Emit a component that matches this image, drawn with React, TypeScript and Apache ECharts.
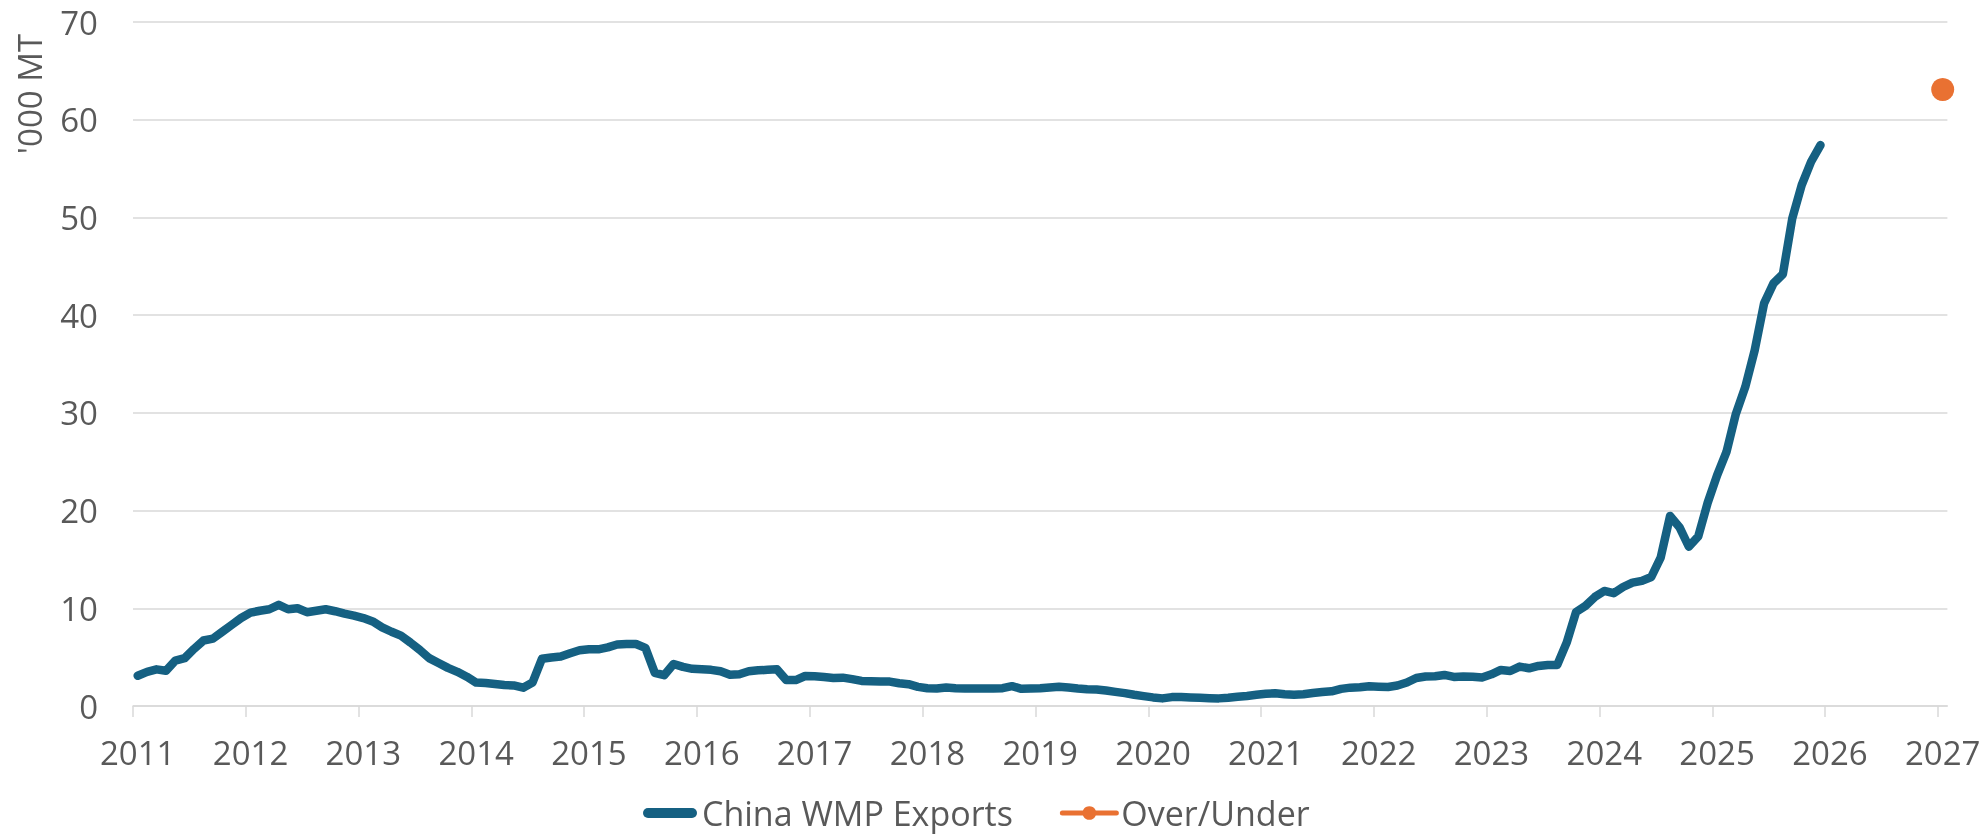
import React, { useEffect, useRef } from 'react';
import * as echarts from 'echarts';

const yearLabels = [
  '2011', '2012', '2013', '2014', '2015', '2016', '2017', '2018', '2019',
  '2020', '2021', '2022', '2023', '2024', '2025', '2026', '2027',
];

const yTicks = [0, 10, 20, 30, 40, 50, 60, 70];

// China WMP Exports, monthly from Jan 2011 to Dec 2025 ('000 MT)
const exports2011 = [3.1, 3.5, 3.75, 3.6, 4.65, 4.9, 5.85, 6.7, 6.9, 7.6, 8.3, 9.0];
const exports2012 = [9.55, 9.75, 9.9, 10.35, 9.9, 10.0, 9.6, 9.75, 9.9, 9.7, 9.45, 9.25];
const exports2013 = [9.0, 8.65, 8.05, 7.6, 7.2, 6.5, 5.75, 4.9, 4.4, 3.9, 3.5, 3.0];
const exports2014 = [2.4, 2.35, 2.25, 2.15, 2.1, 1.87, 2.4, 4.83, 4.97, 5.07, 5.4, 5.7];
const exports2015 = [5.8, 5.8, 6.0, 6.3, 6.35, 6.35, 5.95, 3.4, 3.15, 4.3, 4.0, 3.8];
const exports2016 = [3.75, 3.7, 3.55, 3.2, 3.25, 3.55, 3.65, 3.7, 3.75, 2.65, 2.65, 3.07];
const exports2017 = [3.05, 2.97, 2.87, 2.9, 2.75, 2.57, 2.53, 2.5, 2.5, 2.33, 2.23, 1.96];
const exports2018 = [1.82, 1.79, 1.89, 1.82, 1.79, 1.79, 1.79, 1.79, 1.82, 2.03, 1.76, 1.79];
const exports2019 = [1.82, 1.89, 1.96, 1.89, 1.79, 1.72, 1.69, 1.59, 1.45, 1.32, 1.15, 1.01];
const exports2020 = [0.88, 0.78, 0.91, 0.91, 0.88, 0.84, 0.8, 0.78, 0.85, 0.95, 1.03, 1.15];
const exports2021 = [1.25, 1.3, 1.2, 1.15, 1.2, 1.33, 1.43, 1.5, 1.75, 1.88, 1.92, 2.02];
const exports2022 = [1.98, 1.95, 2.1, 2.4, 2.87, 3.02, 3.05, 3.18, 2.98, 3.02, 3.0, 2.92];
const exports2023 = [3.24, 3.69, 3.58, 4.03, 3.86, 4.1, 4.2, 4.2, 6.48, 9.62, 10.24, 11.16];
const exports2024 = [11.77, 11.54, 12.18, 12.63, 12.8, 13.2, 15.19, 19.45, 18.3, 16.3, 17.35, 20.8];
const exports2025 = [23.6, 26.0, 29.9, 32.65, 36.4, 41.2, 43.25, 44.2, 49.9, 53.3, 55.7, 57.4];

// Over/Under single point (Jan 2027)
const overUnderMonthIndex = [192];
const overUnderValues = [63.1];

const exportsValues = [
  ...exports2011, ...exports2012, ...exports2013, ...exports2014, ...exports2015,
  ...exports2016, ...exports2017, ...exports2018, ...exports2019, ...exports2020,
  ...exports2021, ...exports2022, ...exports2023, ...exports2024, ...exports2025,
];

const FONT = "'Open Sans', sans-serif";
const TEXT_COLOR = '#595959';
const GRID_COLOR = '#d9d9d9';
const BLUE = '#156082';
const ORANGE = '#E97132';

export default function App() {
  const ref = useRef<HTMLDivElement>(null);

  useEffect(() => {
    if (!ref.current) return;
    const chart = echarts.init(ref.current, null, { renderer: 'svg' });
    const totalMonths = (yearLabels.length - 1) * 12 + 1;

    chart.setOption({
      animation: false,
      grid: { left: 133, top: 22, width: 1814.4, height: 684, containLabel: false },
      xAxis: {
        type: 'value',
        min: 0,
        max: totalMonths,
        interval: 12,
        axisLine: { show: true, lineStyle: { color: GRID_COLOR, width: 1.5 } },
        axisTick: {
          show: true,
          length: 11,
          lineStyle: { color: GRID_COLOR, width: 1.5 },
          customValues: yearLabels.map((_, i) => i * 12),
        },
        axisLabel: {
          customValues: yearLabels.map((_, i) => i * 12 + 0.5),
          formatter: (v: number) => {
            const idx = Math.floor(v / 12);
            return Math.abs(v - idx * 12 - 0.5) < 0.01 ? yearLabels[idx] ?? '' : '';
          },
          fontSize: 33,
          color: TEXT_COLOR,
          fontFamily: FONT,
          margin: 30,
        },
        splitLine: { show: false },
      },
      yAxis: {
        type: 'value',
        min: yTicks[0],
        max: yTicks[yTicks.length - 1],
        interval: 10,
        axisLine: { show: false },
        axisTick: { show: false },
        axisLabel: { fontSize: 33, color: TEXT_COLOR, fontFamily: FONT, margin: 35 },
        splitLine: { show: true, lineStyle: { color: GRID_COLOR, width: 1.5 } },
      },
      legend: {
        left: 643,
        top: 795,
        padding: 0,
        itemWidth: 54,
        itemHeight: 17,
        itemGap: 47,
        textStyle: { fontSize: 34, lineHeight: 36, color: TEXT_COLOR, fontFamily: FONT },
        data: [
          {
            name: 'China WMP Exports',
            icon: 'path://M5,0 L49,0 A5,5 0 0 1 49,10 L5,10 A5,5 0 0 1 5,0 Z',
            itemStyle: { color: BLUE },
          },
          {
            name: 'Over/Under',
            lineStyle: { color: ORANGE, width: 5, cap: 'round' },
            itemStyle: { color: ORANGE },
          },
        ],
      },
      graphic: [
        {
          type: 'text',
          x: 29,
          y: 94,
          rotation: Math.PI / 2,
          style: {
            text: "'000 MT",
            fontSize: 33,
            fill: TEXT_COLOR,
            fontFamily: FONT,
            align: 'center',
            verticalAlign: 'middle',
          },
        },
      ],
      series: [
        {
          name: 'China WMP Exports',
          type: 'line',
          data: exportsValues.map((v, i) => [i + 0.5, v]),
          symbol: 'none',
          lineStyle: { color: BLUE, width: 8.5, cap: 'round', join: 'round' },
          itemStyle: { color: BLUE },
        },
        {
          name: 'Over/Under',
          type: 'line',
          data: overUnderValues.map((v, i) => [overUnderMonthIndex[i] + 0.5, v]),
          symbol: 'circle',
          symbolSize: 23,
          itemStyle: { color: ORANGE },
          lineStyle: { color: ORANGE, width: 5, cap: 'round' },
        },
      ],
    });

    return () => chart.dispose();
  }, []);

  return (
    <div
      ref={ref}
      style={{ position: 'fixed', left: 0, top: 0, width: 1984, height: 839 }}
    />
  );
}
